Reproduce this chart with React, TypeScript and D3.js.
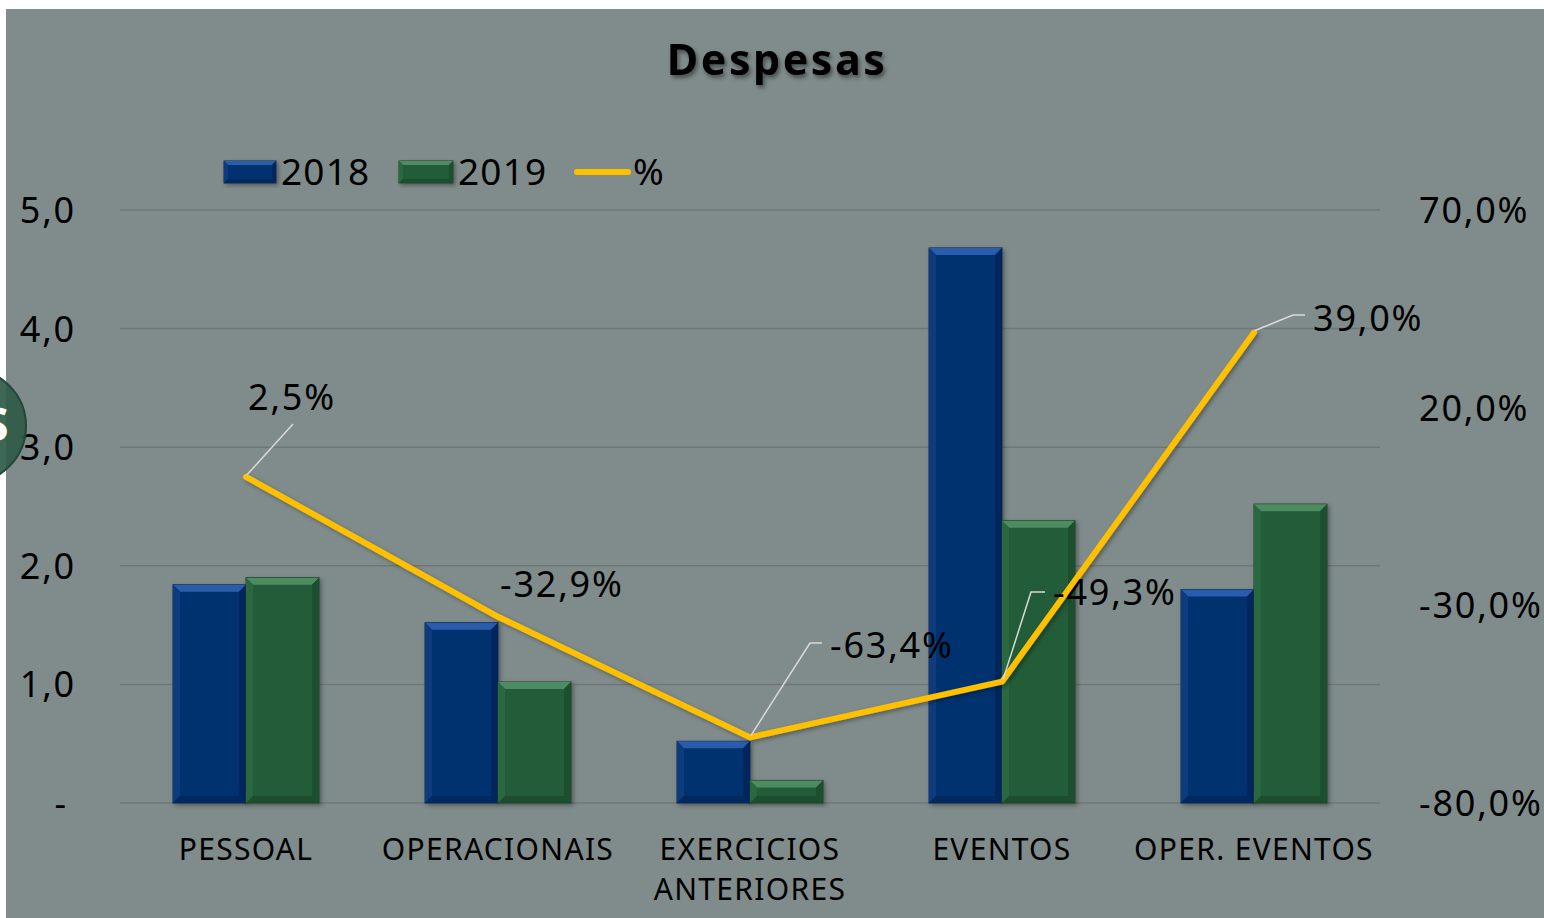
import React from "react";
import * as d3 from "d3";

// dados do gráfico
const categorias = ["PESSOAL", "OPERACIONAIS", "EXERCICIOS ANTERIORES", "EVENTOS", "OPER. EVENTOS"];
const valores2018 = [1.84, 1.52, 0.52, 4.68, 1.8];
const valores2019 = [1.9, 1.02, 0.19, 2.38, 2.52];
const variacao = [2.5, -32.9, -63.4, -49.3, 39.0];
const ticksEsq = [0, 1, 2, 3, 4, 5];
const ticksDir = [-80, -30, 20, 70];

// posições dos rótulos (layout)
const rotulos = [
  { tx: 292, ty: 397, anchor: "middle", leader: [[293, 424]] },
  { tx: 500, ty: 584, anchor: "start", leader: [] },
  { tx: 830, ty: 645, anchor: "start", leader: [[810, 643], [822, 643]] },
  { tx: 1053, ty: 592, anchor: "start", leader: [[1031, 592], [1045, 592]] },
  { tx: 1313, ty: 318, anchor: "start", leader: [[1293, 315], [1305, 315]] },
];

const W = 1544;
const H = 918;
const FONT = "'Noto Sans', 'Open Sans', sans-serif";

const cores = {
  azul: { main: "#02306F", top: "#2C5CAC", left: "#0B3A7D", right: "#01285D", bottom: "#02295F", stroke: "#12294A" },
  verde: { main: "#215C37", top: "#4E8B61", left: "#2A6840", right: "#1B4F2E", bottom: "#1B4E2E", stroke: "#1E3D2A" },
};

const fmt = (v: number, d = 1) => v.toFixed(d).replace(".", ",");

const Barra = ({ x, y, w, h, c, b = 7 }: any) => {
  const bb = Math.min(b, h / 2, w / 2);
  return (
    <g filter="url(#sombra)">
      <rect x={x} y={y} width={w} height={h} fill={c.main} stroke={c.stroke} strokeWidth={1} />
      <polygon points={`${x},${y} ${x + w},${y} ${x + w - bb},${y + bb} ${x + bb},${y + bb}`} fill={c.top} />
      <polygon points={`${x},${y} ${x + bb},${y + bb} ${x + bb},${y + h - bb} ${x},${y + h}`} fill={c.left} />
      <polygon points={`${x + w},${y} ${x + w - bb},${y + bb} ${x + w - bb},${y + h - bb} ${x + w},${y + h}`} fill={c.right} />
      <polygon points={`${x},${y + h} ${x + bb},${y + h - bb} ${x + w - bb},${y + h - bb} ${x + w},${y + h}`} fill={c.bottom} />
    </g>
  );
};

export default function App() {
  const x = d3.scaleBand<string>().domain(categorias).range([120, 1380]);
  const barW = 73;
  const x1 = d3.scaleBand<string>().domain(["2018", "2019"]).range([-barW, barW]);
  const yL = d3.scaleLinear().domain([0, 5]).range([803, 210]);
  const yR = d3.scaleLinear().domain([-80, 70]).range([803, 210]);
  const cx = (c: string) => (x(c) as number) + x.bandwidth() / 2;

  const linha = d3
    .line<number>()
    .x((_, i) => cx(categorias[i]))
    .y((d) => yR(d));

  return (
    <svg width={W} height={H} style={{ position: "absolute", left: 0, top: 0 }} fontFamily={FONT}>
      <defs>
        <filter id="sombra" x="-20%" y="-20%" width="140%" height="140%">
          <feDropShadow dx="2" dy="2" stdDeviation="2" floodColor="#000" floodOpacity="0.35" />
        </filter>
        <filter id="sombraTxt" x="-10%" y="-30%" width="120%" height="160%">
          <feDropShadow dx="2" dy="3" stdDeviation="2" floodColor="#000" floodOpacity="0.45" />
        </filter>
      </defs>
      <rect x={0} y={0} width={W} height={H} fill="#fff" />
      <rect x={6} y={9} width={W - 6} height={H - 9} fill="#808C8B" />

      {/* título */}
      <text x={777} y={75} textAnchor="middle" fontSize={43} fontWeight={700} letterSpacing={2.5} fill="#000" filter="url(#sombraTxt)">
        Despesas
      </text>

      {/* grade */}
      {ticksEsq.map((t) => (
        <line key={t} x1={120} x2={1380} y1={yL(t)} y2={yL(t)} stroke="#6F7776" strokeWidth={1.5} />
      ))}

      {/* eixo esquerdo */}
      {ticksEsq.map((t) => (
        <text key={t} x={t === 0 ? 68 : 76} y={yL(t)} dy="0.36em" textAnchor="end" fontSize={36} letterSpacing={1.8} fill="#000">
          {t === 0 ? "-" : fmt(t)}
        </text>
      ))}

      {/* eixo direito */}
      {ticksDir.map((t) => (
        <text key={t} x={1419} y={yR(t)} dy="0.36em" textAnchor="start" fontSize={36} letterSpacing={1.8} fill="#000">
          {fmt(t) + "%"}
        </text>
      ))}

      {/* barras */}
      {categorias.map((c, i) => (
        <g key={c}>
          <Barra x={cx(c) + (x1("2018") as number)} y={yL(valores2018[i])} w={barW} h={yL(0) - yL(valores2018[i])} c={cores.azul} />
          <Barra x={cx(c) + (x1("2019") as number)} y={yL(valores2019[i])} w={barW} h={yL(0) - yL(valores2019[i])} c={cores.verde} />
        </g>
      ))}

      {/* rótulos das categorias */}
      {categorias.map((c) => {
        const linhas = c === "EXERCICIOS ANTERIORES" ? ["EXERCICIOS", "ANTERIORES"] : [c];
        return linhas.map((l, j) => (
          <text key={c + j} x={cx(c)} y={849 + j * 40} dy="0.36em" textAnchor="middle" fontSize={30} letterSpacing={1.3} fill="#000">
            {l}
          </text>
        ));
      })}

      {/* linha de variação */}
      <path d={linha(variacao) as string} fill="none" stroke="#FFC000" strokeWidth={6} strokeLinejoin="round" strokeLinecap="round" filter="url(#sombra)" />

      {/* rótulos de dados */}
      {variacao.map((v, i) => {
        const px = cx(categorias[i]);
        const py = yR(v);
        const r = rotulos[i];
        const pts = [[px + 1, py - 2], ...r.leader];
        return (
          <g key={i}>
            {r.leader.length > 0 && (
              <polyline points={pts.map((p) => p.join(",")).join(" ")} fill="none" stroke="#D9D9D9" strokeWidth={1.5} />
            )}
            <text x={r.tx} y={r.ty} dy="0.36em" textAnchor={r.anchor as any} fontSize={36} letterSpacing={1.8} fill="#000">
              {fmt(v) + "%"}
            </text>
          </g>
        );
      })}

      {/* legenda */}
      <g>
        <Barra x={224} y={161} w={52} h={22} c={cores.azul} b={4} />
        <text x={281} y={172} dy="0.36em" fontSize={37} letterSpacing={1.2} fill="#000">2018</text>
        <Barra x={399} y={161} w={54} h={22} c={cores.verde} b={4} />
        <text x={458} y={172} dy="0.36em" fontSize={37} letterSpacing={1.2} fill="#000">2019</text>
        <line x1={577} x2={628} y1={172} y2={172} stroke="#FFC000" strokeWidth={6} strokeLinecap="round" />
        <text x={633} y={172} dy="0.36em" fontSize={37} fill="#000">%</text>
      </g>

      {/* marca sobreposta */}
      <g>
        <circle cx={-31} cy={426} r={57} fill="#2F5A46" fillOpacity={0.92} stroke="#23473A" strokeWidth={2} />
        <text x={-4} y={441} textAnchor="middle" fontSize={46} fontWeight={700} fill="#fff">S</text>
      </g>
    </svg>
  );
}
